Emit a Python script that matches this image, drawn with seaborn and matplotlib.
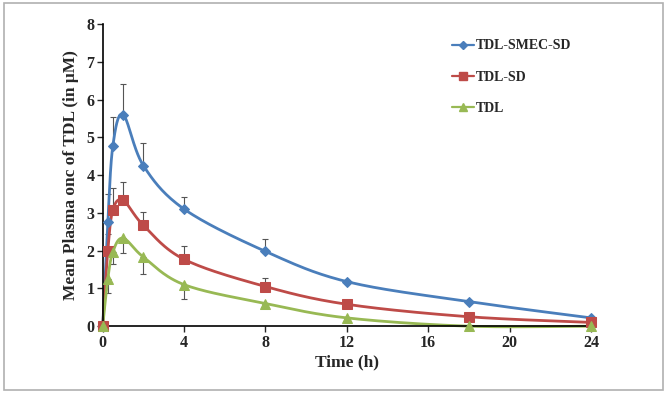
import numpy as np
import pandas as pd
import matplotlib
matplotlib.use("Agg")
import matplotlib.pyplot as plt
import seaborn as sns
from matplotlib.patches import Rectangle

time_h = [0, 0.25, 0.5, 1, 2, 4, 8, 12, 18, 24]
smec_sd = [0, 2.75, 4.78, 5.60, 4.25, 3.10, 1.98, 1.18, 0.65, 0.22]
smec_err = [0, 0.75, 0.77, 0.82, 0.60, 0.33, 0.32, 0.05, 0.04, 0.04]
tdl_sd = [0, 2.00, 3.08, 3.33, 2.67, 1.77, 1.05, 0.58, 0.25, 0.10]
sd_err = [0, 0.45, 0.57, 0.50, 0.35, 0.36, 0.23, 0.12, 0.03, 0.03]
tdl = [0, 1.25, 1.97, 2.33, 1.83, 1.10, 0.60, 0.22, 0.00, 0.00]
tdl_err = [0, 0.37, 0.32, 0.40, 0.45, 0.38, 0.05, 0.04, 0.02, 0.02]

labels = ["TDL-SMEC-SD", "TDL-SD", "TDL"]
colors = ["#4a7ebb", "#be4b48", "#98b954"]
markers = ["D", "s", "^"]
msizes = [5.5, 7, 7]

df = pd.concat([
    pd.DataFrame({"Time": time_h, "Conc": smec_sd, "Err": smec_err, "Group": labels[0]}),
    pd.DataFrame({"Time": time_h, "Conc": tdl_sd, "Err": sd_err, "Group": labels[1]}),
    pd.DataFrame({"Time": time_h, "Conc": tdl, "Err": tdl_err, "Group": labels[2]}),
])


def smooth(x, y, sx=24.0, sy=8.0, n=30):
    # Excel-style smoothed line: Catmull-Rom in normalized axis space
    px = np.asarray(x, float) / sx * 488
    py = np.asarray(y, float) / sy * 302
    P = np.column_stack([px, py])
    P = np.vstack([P[0], P, P[-1]])
    out = []
    for i in range(1, len(P) - 2):
        p0, p1, p2, p3 = P[i - 1], P[i], P[i + 1], P[i + 2]
        t = np.linspace(0, 1, n)[:, None]
        c = 0.5 * ((2 * p1) + (-p0 + p2) * t + (2 * p0 - 5 * p1 + 4 * p2 - p3) * t ** 2
                   + (-p0 + 3 * p1 - 3 * p2 + p3) * t ** 3)
        out.append(c)
    c = np.vstack(out)
    return c[:, 0] / 488 * sx, c[:, 1] / 302 * sy


sns.set_style("white")
plt.rcParams["font.family"] = ["Liberation Serif", "DejaVu Serif"]
plt.rcParams["font.weight"] = "bold"

fig = plt.figure(figsize=(6.67, 3.93), dpi=100)
ax = fig.add_axes([0.154, 0.170, 0.732, 0.769])

for i, g in enumerate(labels):
    d = df[df["Group"] == g]
    # error bars (TDL drawn downward, others upward)
    if g == "TDL":
        lo, hi = d["Err"].values, np.zeros(len(d))
    else:
        lo, hi = np.zeros(len(d)), d["Err"].values
    ax.errorbar(d["Time"], d["Conc"], yerr=[lo, hi], fmt="none", ecolor="#555555",
                elinewidth=0.8, capsize=2.5, capthick=0.8, zorder=1)
    xs, ys = smooth(d["Time"].values, d["Conc"].values)
    ax.plot(xs, ys, color=colors[i], lw=2, zorder=2, clip_on=False)
    sns.lineplot(data=d, x="Time", y="Conc", ax=ax, color=colors[i], marker=markers[i],
                 markersize=msizes[i], markeredgecolor=colors[i], linestyle="", zorder=3,
                 label=None, clip_on=False)

handles = [plt.Line2D([0], [0], color=colors[i], marker=markers[i], markersize=msizes[i] - 1,
                      lw=1.6) for i in range(3)]
ax.legend(handles, labels, loc="upper left", bbox_to_anchor=(0.69, 0.99), frameon=False,
          handlelength=1.6, handletextpad=0.1, labelspacing=1.3,
          prop={"weight": "bold", "size": 10})

ax.set_xlim(0, 24)
ax.set_ylim(0, 8)
ax.set_xticks([0, 4, 8, 12, 16, 20, 24])
ax.set_yticks(range(0, 9))
ax.set_xlabel("Time (h)", fontsize=12.5, fontweight="bold", labelpad=3)
ax.set_ylabel("Mean Plasma onc of TDL (in μM)", fontsize=12.5, fontweight="bold", labelpad=5)
ax.tick_params(axis="both", labelsize=11.5, direction="out", length=4, width=1, left=True,
               bottom=True, pad=2)
for lab in ax.get_xticklabels() + ax.get_yticklabels():
    lab.set_fontweight("bold")
sns.despine(ax=ax)
for s in ["left", "bottom"]:
    ax.spines[s].set_color("black")
    ax.spines[s].set_linewidth(1.2)

fig.patches.append(Rectangle((0.006, 0.008), 0.988, 0.984, transform=fig.transFigure,
                             fill=False, edgecolor="#b0b0b0", lw=1.2))

fig.savefig("out.png", dpi=100)
